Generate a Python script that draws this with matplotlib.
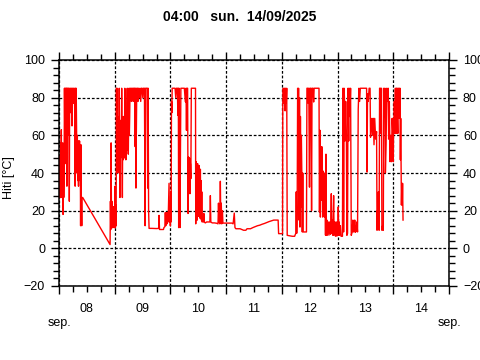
import matplotlib
matplotlib.use('agg')
import matplotlib.pyplot as plt
from matplotlib.ticker import MultipleLocator
import numpy as np

# hours since 08 sep 00:00, temperature in °C
d08 = [(0.0, 30), (0.12, 49), (0.25, 27), (0.4, 45), (0.55, 27), (0.7, 56), (0.85, 30), (1.0, 63),
       (1.15, 27), (1.3, 50), (1.45, 28), (1.6, 56), (1.75, 18), (1.9, 51), (2.05, 27), (2.2, 40),
       (2.35, 85), (2.5, 60), (2.65, 85), (2.8, 45), (2.95, 85), (3.1, 70), (3.25, 85), (3.4, 33),
       (3.55, 85), (3.7, 75), (3.85, 85), (4.0, 60), (4.15, 85), (4.3, 80), (4.45, 25), (4.6, 85),
       (4.8, 72), (5.0, 85), (5.2, 77), (5.4, 85), (5.6, 65), (5.8, 85), (6.0, 80), (6.2, 85),
       (6.4, 77), (6.6, 85), (6.8, 70), (6.95, 33), (7.1, 85), (7.25, 57), (7.4, 85), (7.6, 60),
       (7.75, 40), (7.9, 60), (8.05, 36), (8.2, 57), (8.4, 33), (8.55, 57), (8.7, 45), (8.85, 57),
       (9.0, 36), (9.15, 55), (9.3, 12), (9.45, 55), (9.6, 27), (9.8, 12), (9.95, 27), (10.2, 27),
       (22.0, 2), (22.15, 25), (22.3, 10), (22.45, 56), (22.6, 15), (22.75, 25), (22.9, 11),
       (23.05, 20), (23.2, 11), (23.35, 22), (23.5, 12), (23.7, 22), (23.85, 11)]

d09 = [(24.0, 11), (24.15, 33), (24.3, 11), (24.45, 23), (24.6, 12), (24.75, 85), (24.9, 40),
       (25.05, 85), (25.2, 50), (25.35, 70), (25.5, 45), (25.65, 66), (25.8, 40), (25.95, 85),
       (26.1, 52), (26.25, 27), (26.4, 62), (26.55, 48), (26.7, 68), (26.85, 50), (27.0, 85),
       (27.15, 55), (27.3, 27), (27.45, 65), (27.6, 47), (27.75, 70), (27.9, 55), (28.05, 62),
       (28.2, 48), (28.35, 85), (28.5, 55), (28.65, 70), (28.8, 47), (28.95, 66), (29.1, 52),
       (29.25, 70), (29.4, 85), (29.55, 57), (29.7, 68), (29.85, 50), (30.0, 66), (30.15, 85),
       (30.3, 60), (30.45, 70), (30.6, 85), (30.8, 80), (31.0, 85), (31.2, 78), (31.4, 85),
       (31.6, 80), (31.8, 85), (32.0, 78), (32.2, 85), (32.6, 85), (32.8, 54), (33.0, 85),
       (33.15, 32), (33.3, 59), (33.5, 85), (33.8, 85), (34.0, 78), (34.3, 85), (34.6, 80),
       (34.9, 85), (35.2, 78), (35.5, 85), (35.8, 85), (36.1, 80), (36.4, 85), (36.8, 85),
       (37.1, 12), (37.3, 85), (38.0, 85), (38.2, 32), (38.4, 85), (38.6, 20), (38.8, 10.6),
       (40.0, 10.6), (42.0, 10.5), (43.0, 10.6), (43.1, 17.5), (43.3, 10), (45.0, 10), (45.2, 11),
       (45.6, 11.5), (45.8, 19), (46.0, 12), (46.3, 19), (46.5, 13), (46.8, 19), (47.0, 14),
       (47.4, 34.5), (47.6, 14), (47.8, 25), (47.95, 12)]

d10 = [(48.0, 12), (48.15, 30), (48.3, 14), (48.45, 78), (48.6, 72), (48.75, 85), (49.5, 85),
       (50.0, 85), (50.3, 80), (50.6, 85), (51.0, 85), (51.2, 70.6), (51.4, 85), (51.55, 11),
       (51.7, 85), (51.9, 40), (52.1, 11), (52.3, 52), (52.5, 85), (53.0, 85), (53.5, 85),
       (54.0, 85), (54.3, 80), (54.5, 77.7), (54.7, 85), (54.9, 62.7), (55.1, 85), (55.4, 85),
       (55.6, 18.5), (55.8, 48.5), (56.0, 38), (56.2, 48), (56.4, 29), (56.6, 45), (56.8, 37),
       (57.0, 85), (57.5, 85), (58.0, 85), (58.5, 85), (58.8, 85), (58.9, 13), (59.1, 46),
       (59.25, 20), (59.4, 44), (59.55, 15), (59.7, 45), (59.85, 22), (60.0, 40), (60.15, 17),
       (60.3, 44), (60.45, 20), (60.6, 38), (60.75, 16), (60.9, 42), (61.05, 18), (61.2, 36),
       (61.35, 15), (61.5, 30), (61.65, 14), (61.8, 14.5), (62.2, 14), (62.4, 18.5), (62.6, 14),
       (63.0, 13.5), (63.6, 14), (64.0, 14), (65.0, 14), (65.2, 28), (65.4, 14), (66.0, 13.5),
       (67.0, 13.5), (68.0, 13.3), (68.5, 13), (68.7, 24), (68.9, 14), (69.1, 22), (69.3, 13),
       (69.5, 35.6), (69.7, 14), (69.9, 24), (70.1, 13), (70.4, 20), (70.6, 13.4), (71.0, 13.4),
       (71.5, 13.4), (72.0, 13.4)]

d11 = [(72.5, 13.4), (74.5, 13.4), (75.0, 13), (75.5, 18.7), (75.8, 11), (76.2, 10.4),
       (78.0, 10.4), (79.5, 9.6), (80.5, 9.6), (81.0, 10.4), (82.5, 10.4), (83.5, 11),
       (84.5, 11.5), (85.5, 12), (86.5, 12.3), (87.5, 12.8), (88.5, 13.2), (89.5, 13.7),
       (90.5, 14.2), (91.5, 14.6), (92.5, 15), (94.4, 15), (94.6, 7.8), (96.0, 7.8)]

d12 = [(96.3, 7.8), (96.4, 78), (96.6, 85), (96.9, 77), (97.1, 85), (97.4, 73), (97.6, 85),
       (97.9, 77), (98.1, 85), (98.3, 6.9), (99.5, 6.6), (100.5, 6.4), (101.5, 6.4), (102.0, 8),
       (102.2, 30), (102.4, 8), (102.6, 20), (102.8, 85), (103.0, 60), (103.2, 85), (103.4, 15),
       (103.6, 80), (103.8, 11.3), (104.0, 70), (104.2, 22), (104.4, 60), (104.6, 40),
       (104.8, 8.7), (105.0, 40), (105.2, 8.7), (106.0, 8.7), (106.6, 8.7), (106.8, 85),
       (107.2, 85), (107.4, 77), (107.6, 85), (107.9, 32.5), (108.1, 85), (108.5, 85),
       (108.8, 20), (109.0, 85), (109.4, 85), (109.7, 77.7), (109.9, 85), (110.5, 85),
       (111.0, 85), (111.5, 85), (112.0, 85), (112.2, 19.3), (112.4, 62.7), (112.6, 16.6),
       (112.8, 54), (113.0, 25.5), (113.2, 54), (113.4, 43), (113.6, 16.6), (113.8, 41),
       (114.0, 31), (114.2, 40), (114.4, 16.6), (114.6, 35), (114.8, 7), (115.0, 50), (115.2, 7),
       (115.4, 15), (115.6, 7), (116.0, 14), (116.3, 7), (116.6, 14), (117.0, 7.5), (117.3, 29),
       (117.5, 8), (117.8, 15), (118.0, 6.9), (118.3, 28), (118.5, 7), (118.8, 14), (119.1, 6.4),
       (119.4, 14), (119.7, 6.5), (119.9, 14)]

d13 = [(120.1, 7), (120.3, 22), (120.5, 7), (120.7, 14), (120.9, 7), (121.2, 12), (121.5, 6.4),
       (122.1, 6.4), (122.3, 85), (122.5, 60), (122.6, 8.7), (122.8, 85), (123.0, 78),
       (123.2, 57), (123.5, 78), (123.8, 60), (124.0, 6.9), (124.3, 8), (124.5, 85), (124.8, 57),
       (125.0, 85), (125.3, 70), (125.6, 85), (125.9, 6.9), (126.3, 8.7), (126.6, 15),
       (126.8, 8.7), (127.2, 9), (127.4, 15), (127.6, 8.5), (128.0, 9), (128.3, 14), (128.6, 8.7),
       (128.9, 74), (129.2, 85), (129.5, 78), (129.8, 85), (130.5, 85), (131.5, 85), (132.5, 85),
       (132.7, 40.5), (132.9, 82), (133.2, 78), (133.6, 85), (134.0, 85), (134.2, 59),
       (134.5, 65), (134.8, 69), (135.1, 60), (135.4, 69), (135.7, 55), (136.0, 69), (136.4, 58),
       (136.8, 62), (137.0, 9.6), (137.2, 20), (137.4, 12), (137.6, 30), (137.9, 9.6),
       (138.1, 85), (138.5, 85), (138.7, 61), (138.9, 85), (139.1, 9.6), (139.4, 12),
       (139.7, 9.6), (139.9, 85), (140.2, 70), (140.4, 85), (140.6, 40), (140.9, 55), (141.2, 85),
       (141.5, 78), (141.8, 85), (142.0, 58), (142.3, 78), (142.6, 46), (142.9, 60), (143.2, 46),
       (143.5, 69), (143.8, 61)]

d14 = [(144.0, 46), (144.15, 69), (144.3, 61), (144.45, 78), (144.6, 61), (144.75, 69),
       (144.9, 85), (145.05, 61), (145.2, 78), (145.35, 85), (145.5, 61), (145.65, 85),
       (145.8, 69), (145.95, 61), (146.1, 85), (146.3, 69), (146.5, 85), (146.7, 69), (146.9, 85),
       (147.05, 47), (147.2, 69), (147.35, 47), (147.5, 23), (147.7, 34.5), (147.85, 23),
       (148.0, 34.5), (148.2, 15)]

day_labels = ["08", "09", "10", "11", "12", "13", "14"]
month_label = "sep."
title = "04:00   sun.  14/09/2025"
ylabel = "Hiti [°C]"

data = np.array(d08 + d09 + d10 + d11 + d12 + d13 + d14)

plt.rcParams['font.family'] = ['Liberation Sans', 'DejaVu Sans']

fig = plt.figure(figsize=(4.8, 3.6), dpi=100)
ax = fig.add_axes([59 / 480, 1 - 286 / 360, 390 / 480, 226 / 360])

ax.plot(data[:, 0], data[:, 1], color='red', lw=1.0)

ax.set_xlim(0, 168)
ax.set_ylim(-20, 100)
ax.xaxis.set_major_locator(MultipleLocator(24))
ax.xaxis.set_minor_locator(MultipleLocator(6))
ax.yaxis.set_major_locator(MultipleLocator(20))
ax.yaxis.set_minor_locator(MultipleLocator(4))
ax.set_xticklabels([])

dots = (0, (2.2, 1.5))
ax.grid(True, which='major', color='black', lw=0.9, linestyle=dots)

ax.tick_params(which='both', direction='out', top=True, right=True,
               labelright=True, labelsize=9, width=1, color='black', pad=4)
ax.tick_params(which='major', length=6)
ax.tick_params(which='minor', length=4)
for s in ax.spines.values():
    s.set_linewidth(1.1)

tr = ax.get_xaxis_transform()
for i, lab in enumerate(day_labels):
    ax.text(24 * i + 12, -0.102, lab, transform=tr, ha='center', va='center', fontsize=9)
ax.text(0, -0.165, month_label, transform=tr, ha='center', va='center', fontsize=9)
ax.text(168, -0.165, month_label, transform=tr, ha='center', va='center', fontsize=9)

fig.text(0.5, 1 - 17 / 360, title, ha='center', va='center', fontsize=10, fontweight='bold')
fig.text(9 / 480, 0.5 + 2 / 360, ylabel, rotation=90, ha='center', va='center', fontsize=9)

fig.savefig('out.png', dpi=100)
